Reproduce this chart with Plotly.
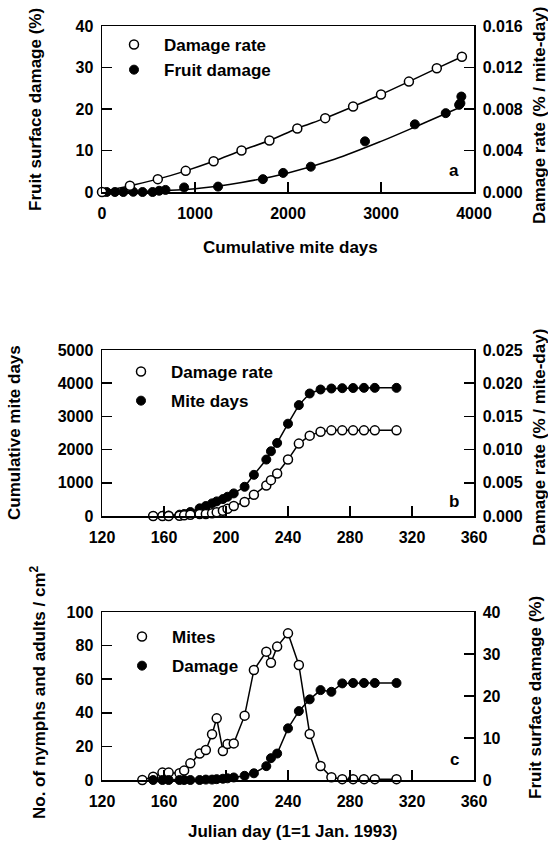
import plotly.graph_objects as go

# ---------------- data ----------------
# Panel a: x = cumulative mite days
a_rate_x = [0, 300, 600, 900, 1200, 1500, 1800, 2100, 2400, 2700, 3000, 3300, 3600, 3870]
a_rate_y = [0.0, 0.0006, 0.00124, 0.00204, 0.00296, 0.0040, 0.00496, 0.00612,
            0.00712, 0.00824, 0.0094, 0.01064, 0.01192, 0.01304]
a_dmg_x = [50, 139, 229, 336, 436, 544, 615, 683, 883, 1248, 1730, 1948, 2245,
           2828, 3364, 3696, 3840, 3854, 3864]
a_dmg_y = [0, 0, 0, 0.05, 0, 0, 0.3, 0.5, 1.1, 1.3, 3.1, 4.6, 6.1,
           12.2, 16.3, 19.0, 21.0, 21.4, 23.0]
a_fit_x = [0, 500, 1000, 1500, 2000, 2500, 3000, 3500, 3870]
a_fit_y = [0, 0.2, 0.8, 2.3, 4.6, 7.9, 12.2, 17.0, 20.6]

# Panels b and c: Julian day
days = [153, 159, 163, 170, 173, 177, 183, 187, 191, 194, 198, 201, 205, 212, 218,
        226, 229, 233, 240, 247, 254, 261, 268, 275, 282, 289, 296, 310]
b_mite_days = [0, 5, 15, 40, 60, 120, 230, 300, 380, 440, 510, 580, 680, 880, 1240,
               1700, 1950, 2200, 2780, 3340, 3690, 3810, 3840, 3850, 3855, 3860, 3860, 3860]
b_rate = [0, 0, 0, 0.00005, 0.0001, 0.0002, 0.0003, 0.0003, 0.0004, 0.00055, 0.0008,
          0.0011, 0.0015, 0.0021, 0.0032, 0.0046, 0.0054, 0.0064, 0.0085, 0.0109,
          0.0121, 0.0127, 0.0129, 0.0129, 0.0129, 0.0129, 0.0129, 0.0129]

c_days = [146] + days
c_mites = [0, 2, 4.4, 4.4, 4, 5.6, 9.9, 15.7, 17.9, 27.2, 36.7, 17.3, 21.4, 21.8, 38.3,
           65.5, 76.4, 69.8, 79.4, 87.3, 68.5, 27.4, 8.3, 1.6, 0.5, 0.5, 0.5, 0.5, 0.5]
c_damage = [0, 0, 0, 0, 0, 0, 0, 0.1, 0.1, 0.2, 0.3, 0.4, 0.6, 1.0, 1.6,
            3.3, 5.2, 6.3, 12.3, 16.4, 19.2, 21.4, 21.0, 23.0, 23.1, 23.1, 23.1, 23.1]

a_xticks = [0, 1000, 2000, 3000, 4000]
day_ticks = [120, 160, 200, 240, 280, 320, 360]

# ---------------- styling ----------------
FONT = "Liberation Sans, Arial, Helvetica, sans-serif"
TICKF = dict(family=FONT, size=16, color="black", weight="bold")
MS = 9
OPEN = dict(symbol="circle", size=MS, color="white", line=dict(color="black", width=1.5))
FILL = dict(symbol="circle", size=MS, color="black", line=dict(color="black", width=1))
LINE = dict(color="black", width=1.5)

L, R, T, B = 102, 74, 26, 66
W, H = 548, 846
PW, PH = W - L - R, H - T - B


def px(x):
    return (x - L) / PW


def py(y):
    return (H - B - y) / PH


fig = go.Figure()

# panel a
fig.add_trace(go.Scatter(x=a_rate_x, y=a_rate_y, mode="lines+markers", line=dict(**LINE, shape="spline"),
                         marker=OPEN, xaxis="x", yaxis="y2", showlegend=False, cliponaxis=False))
fig.add_trace(go.Scatter(x=a_fit_x, y=a_fit_y, mode="lines", line=dict(**LINE, shape="spline"),
                         xaxis="x", yaxis="y", showlegend=False, cliponaxis=False))
fig.add_trace(go.Scatter(x=a_dmg_x, y=a_dmg_y, mode="markers", marker=FILL,
                         xaxis="x", yaxis="y", showlegend=False, cliponaxis=False))
fig.add_trace(go.Scatter(x=[None], y=[None], mode="markers", marker=OPEN, name="Damage rate",
                         legend="legend", legendgroup="a1", xaxis="x", yaxis="y"))
fig.add_trace(go.Scatter(x=[None], y=[None], mode="markers", marker=FILL, name="Fruit damage",
                         legend="legend", legendgroup="a2", xaxis="x", yaxis="y"))

# panel b
fig.add_trace(go.Scatter(x=days, y=b_rate, mode="lines+markers", line=LINE, marker=OPEN,
                         xaxis="x2", yaxis="y4", showlegend=False, cliponaxis=False))
fig.add_trace(go.Scatter(x=days, y=b_mite_days, mode="lines+markers", line=LINE, marker=FILL,
                         xaxis="x2", yaxis="y3", showlegend=False, cliponaxis=False))
fig.add_trace(go.Scatter(x=[None], y=[None], mode="markers", marker=OPEN, name="Damage rate",
                         legend="legend2", legendgroup="b1", xaxis="x2", yaxis="y3"))
fig.add_trace(go.Scatter(x=[None], y=[None], mode="markers", marker=FILL, name="Mite days",
                         legend="legend2", legendgroup="b2", xaxis="x2", yaxis="y3"))

# panel c
fig.add_trace(go.Scatter(x=days, y=c_damage, mode="lines+markers", line=LINE, marker=FILL,
                         xaxis="x3", yaxis="y6", showlegend=False, cliponaxis=False))
fig.add_trace(go.Scatter(x=c_days, y=c_mites, mode="lines+markers", line=LINE, marker=OPEN,
                         xaxis="x3", yaxis="y5", showlegend=False, cliponaxis=False))
fig.add_trace(go.Scatter(x=[None], y=[None], mode="markers", marker=OPEN, name="Mites",
                         legend="legend3", legendgroup="c1", xaxis="x3", yaxis="y5"))
fig.add_trace(go.Scatter(x=[None], y=[None], mode="markers", marker=FILL, name="Damage",
                         legend="legend3", legendgroup="c2", xaxis="x3", yaxis="y5"))

AX = dict(showline=True, linecolor="black", linewidth=1.5, ticks="inside", ticklen=10,
          tickwidth=1.5, tickcolor="black", showgrid=False, zeroline=False,
          tickfont=TICKF, fixedrange=True)


def xax(anchor, rng, vals):
    return dict(AX, anchor=anchor, domain=[0, 1], range=rng, tickvals=vals, mirror=True,
                ticklabelstandoff=6)


def yax(anchor, dom, rng, dtick, fmt=None, side="left", overlay=None):
    d = dict(AX, anchor=anchor, range=rng, dtick=dtick, side=side, ticklabelstandoff=4)
    if overlay:
        d["overlaying"] = overlay
    else:
        d["domain"] = dom
    if fmt:
        d["tickformat"] = fmt
    return d


dom_a = [py(192), 1.0]
dom_b = [py(516), py(350)]
dom_c = [0.0, py(612)]

leg = dict(font=dict(family=FONT, size=17, color="black", weight="bold"), bgcolor="rgba(0,0,0,0)",
           xanchor="left", yanchor="top", itemwidth=50, traceorder="grouped")

fig.update_layout(
    width=W, height=H, margin=dict(l=L, r=R, t=T, b=B),
    paper_bgcolor="white", plot_bgcolor="white",
    font=dict(family=FONT, color="black"),
    hovermode=False,
    xaxis=xax("y", [0, 4000], a_xticks),
    yaxis=yax("x", dom_a, [0, 40], 10),
    yaxis2=yax("x", None, [0, 0.016], 0.004, ".3f", "right", "y"),
    xaxis2=xax("y3", [120, 360], day_ticks),
    yaxis3=yax("x2", dom_b, [0, 5000], 1000, "d"),
    yaxis4=yax("x2", None, [0, 0.025], 0.005, ".3f", "right", "y3"),
    xaxis3=xax("y5", [120, 360], day_ticks),
    yaxis5=yax("x3", dom_c, [0, 100], 20),
    yaxis6=yax("x3", None, [0, 40], 10, None, "right", "y5"),
    legend=dict(leg, x=px(104), y=py(27), tracegroupgap=0),
    legend2=dict(leg, x=px(111), y=py(354), tracegroupgap=4),
    legend3=dict(leg, x=px(112), y=py(619), tracegroupgap=4),
)


def ann(text, x, y, angle=0, size=17):
    fig.add_annotation(text=text, x=px(x), y=py(y), xref="paper", yref="paper",
                       showarrow=False, textangle=angle, xanchor="center", yanchor="middle",
                       font=dict(family=FONT, size=size, color="black", weight="bold"))


ann("Fruit surface damage (%)", 35, 110, -90)
ann("Damage rate (% / mite-day)", 539, 116, -90)
ann("Cumulative mite days", 290, 247)
ann("a", 454, 170)

ann("Cumulative mite days", 15, 433, -90)
ann("Damage rate (% / mite-day)", 539, 438, -90)
ann("b", 454, 501)

ann("No. of nymphs and adults / cm<sup>2</sup>", 38, 692, -90)
ann("Fruit surface damage (%)", 535, 698, -90)
ann("c", 454, 759)
ann("Julian day (1=1 Jan. 1993)", 292, 831)

fig.write_html(
    "out.html",
    config={"displayModeBar": False, "staticPlot": True},
    post_script="document.body.style.margin='0';document.body.style.padding='0';"
                "document.body.style.overflow='hidden';",
)
